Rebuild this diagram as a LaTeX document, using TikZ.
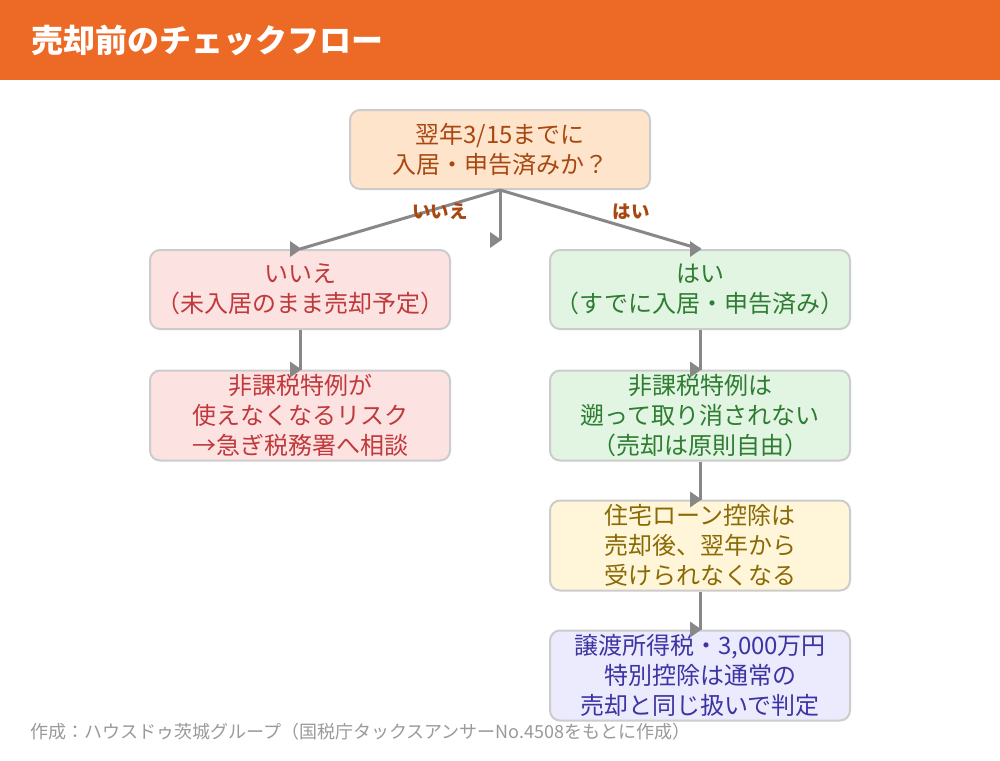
\documentclass[tikz,border=0pt]{standalone}
\usepackage{fontspec}
\setmainfont{Noto Sans CJK JP}
\definecolor{hdr}{HTML}{EC6A25}
\definecolor{bordergray}{HTML}{CCCCCC}
\definecolor{linegray}{HTML}{888888}
\definecolor{qfill}{HTML}{FFE4CC}
\definecolor{qtext}{HTML}{A84810}
\definecolor{nofill}{HTML}{FDE2E2}
\definecolor{notext}{HTML}{C0393B}
\definecolor{yesfill}{HTML}{E2F4E2}
\definecolor{yestext}{HTML}{2E7D32}
\definecolor{ylfill}{HTML}{FFF5D8}
\definecolor{yltext}{HTML}{8A6A05}
\definecolor{lvfill}{HTML}{ECEBFD}
\definecolor{lvtext}{HTML}{3D34A3}
\definecolor{foot}{HTML}{9A9A9A}
\begin{document}
\begin{tikzpicture}[x=1pt,y=-1pt,
  box/.style={draw=bordergray, line width=2pt, rounded corners=10pt,
    minimum width=300pt, align=center, inner sep=0pt,
    font=\fontsize{24}{30}\selectfont},
  box2/.style={box, minimum height=79pt},
  box3/.style={box, minimum height=90pt},
  conn/.style={draw=linegray, line width=3pt},
  elabel/.style={font=\fontsize{18.5}{22}\selectfont\bfseries, text=qtext},
  rtip/.pic={\fill[linegray] (-10,-8) -- (1.5,0) -- (-10,8) -- cycle;}
]
\useasboundingbox (0,0) rectangle (1000,760);
\fill[white] (0,0) rectangle (1000,760);
\fill[hdr] (0,0) rectangle (1000,80);
\node[anchor=west, text=white, font=\fontsize{32}{36}\selectfont\bfseries, inner sep=0pt] (title) at (31,40) {売却前のチェックフロー};

\node[box2, fill=qfill, text=qtext] (q) at (500,149.5) {翌年3/15までに\\入居・申告済みか？};
\node[box2, fill=nofill, text=notext] (l1) at (300,289.5) {いいえ\\（未入居のまま売却予定）};
\node[box3, fill=nofill, text=notext] (l2) at (300,415.5) {非課税特例が\\使えなくなるリスク\\→急ぎ税務署へ相談};
\node[box2, fill=yesfill, text=yestext] (r1) at (700,289.5) {はい\\（すでに入居・申告済み）};
\node[box3, fill=yesfill, text=yestext] (r2) at (700,415.5) {非課税特例は\\遡って取り消されない\\（売却は原則自由）};
\node[box3, fill=ylfill, text=yltext] (r3) at (700,545.5) {住宅ローン控除は\\売却後、翌年から\\受けられなくなる};
\node[box3, fill=lvfill, text=lvtext] (r4) at (700,675.5) {譲渡所得税・3,000万円\\特別控除は通常の\\売却と同じ扱いで判定};

\coordinate (mid) at (500,240);
\draw[conn] (q.south) -- (l1.north);
\draw[conn] (q.south) -- (mid);
\draw[conn] (q.south) -- (r1.north);
\draw[conn] (l1.south) -- (l2.north);
\draw[conn] (r1.south) -- (r2.north);
\draw[conn] (r2.south) -- (r3.north);
\draw[conn] (r3.south) -- (r4.north);
\pic at (l1.north) {rtip};
\pic at (mid) {rtip};
\pic at (r1.north) {rtip};
\pic at (l2.north) {rtip};
\pic at (r2.north) {rtip};
\pic at (r3.north) {rtip};
\pic at (r4.north) {rtip};

\node[elabel] (lno) at (440,212) {いいえ};
\node[elabel] (lyes) at (631,212) {はい};

\node[anchor=west, text=foot, font=\fontsize{18}{20}\selectfont, inner sep=0pt] (footer) at (30,732) {作成：ハウスドゥ茨城グループ（国税庁タックスアンサーNo.4508をもとに作成）};
\end{tikzpicture}
\end{document}
